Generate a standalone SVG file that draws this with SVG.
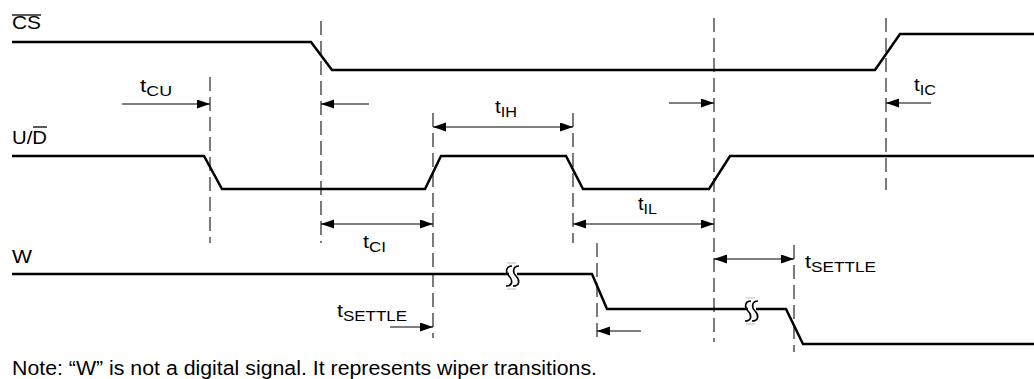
<svg xmlns="http://www.w3.org/2000/svg" width="1034" height="379" viewBox="0 0 1034 379">
<defs>
<marker id="ah" markerUnits="userSpaceOnUse" markerWidth="14" markerHeight="10" refX="13" refY="4.5" orient="auto-start-reverse"><path d="M0,0 L13,4.5 L0,9 z" fill="#000"/></marker>
<style>
.sig{fill:none;stroke:#000;stroke-width:2.5;stroke-linejoin:miter}
.guide{stroke:#111;stroke-width:1.1;stroke-dasharray:14 6;fill:none}
.arr{stroke:#000;stroke-width:1.2;fill:none}
.ov{stroke:#000;stroke-width:1.3}
text{font-family:"Liberation Sans",Arial,sans-serif;fill:#000}
.lbl{font-size:19px}
.sub{font-size:15px}
.brk{fill:none;stroke:#000;stroke-width:1.6}
.brkbar{stroke:#d0d0d0;stroke-width:1.5}
</style>
</defs>
<rect width="1034" height="379" fill="#fff"/>

<g id="guides">
<line class="guide" x1="210" y1="77" x2="210" y2="243"/>
<line class="guide" x1="321" y1="21" x2="321" y2="243"/>
<line class="guide" x1="433" y1="113" x2="433" y2="338"/>
<line class="guide" x1="573" y1="113" x2="573" y2="243"/>
<line class="guide" x1="597" y1="243" x2="597" y2="342"/>
<line class="guide" x1="714" y1="18" x2="714" y2="342"/>
<line class="guide" x1="794" y1="245" x2="794" y2="352"/>
<line class="guide" x1="886" y1="18" x2="886" y2="190"/>
</g>

<g id="signal-CS">
<polyline class="sig" points="12,42 311,42 332,70 875,70 900,34 1034,34"/>
<text class="lbl" x="12" y="29" textLength="29" lengthAdjust="spacingAndGlyphs">CS</text>
<line class="ov" x1="12" y1="15" x2="41" y2="15"/>
</g>

<g id="signal-UD">
<polyline class="sig" points="12,156 204,156 222,189 425,189 441,156 566,156 583,189 709,189 730,156 1034,156"/>
<text class="lbl" x="12" y="144" textLength="35" lengthAdjust="spacingAndGlyphs">U/D</text>
<line class="ov" x1="33" y1="127" x2="47" y2="127"/>
</g>

<g id="signal-W">
<polyline class="sig" points="12,274 592,274 607,309 786,309 803,344 1034,344"/>
<text class="lbl" x="12" y="263" textLength="20" lengthAdjust="spacingAndGlyphs">W</text>
<g id="break1" transform="translate(513,276)">
<rect x="-4" y="-5" width="8" height="8" fill="#fff"/>
<path class="brk" d="M-1,-10 C-7,-10 -8,-4 -4,0 C0,4 0,10 -7,10"/>
<path class="brk" d="M6,-10 C0,-10 -1,-4 3,0 C7,4 7,10 0,10"/>
<line class="brkbar" x1="-6" y1="-13" x2="3" y2="-13"/>
<line class="brkbar" x1="-6" y1="13" x2="3" y2="13"/>
</g>
<g id="break2" transform="translate(752,311)">
<rect x="-4" y="-5" width="8" height="8" fill="#fff"/>
<path class="brk" d="M-1,-10 C-7,-10 -8,-4 -4,0 C0,4 0,10 -7,10"/>
<path class="brk" d="M6,-10 C0,-10 -1,-4 3,0 C7,4 7,10 0,10"/>
<line class="brkbar" x1="-6" y1="-13" x2="3" y2="-13"/>
<line class="brkbar" x1="-6" y1="13" x2="3" y2="13"/>
</g>
</g>

<g id="connectors">
<line class="arr" x1="122" y1="104" x2="210" y2="104" marker-end="url(#ah)"/>
<line class="arr" x1="369" y1="104" x2="321" y2="104" marker-end="url(#ah)"/>
<line class="arr" x1="669" y1="103" x2="714" y2="103" marker-end="url(#ah)"/>
<line class="arr" x1="931" y1="103" x2="886" y2="103" marker-end="url(#ah)"/>
<line class="arr" x1="433" y1="127" x2="573" y2="127" marker-start="url(#ah)" marker-end="url(#ah)"/>
<line class="arr" x1="321" y1="224" x2="433" y2="224" marker-start="url(#ah)" marker-end="url(#ah)"/>
<line class="arr" x1="573" y1="224" x2="714" y2="224" marker-start="url(#ah)" marker-end="url(#ah)"/>
<line class="arr" x1="714" y1="259" x2="794" y2="259" marker-start="url(#ah)" marker-end="url(#ah)"/>
<line class="arr" x1="390" y1="327" x2="433" y2="327" marker-end="url(#ah)"/>
<line class="arr" x1="641" y1="331" x2="597" y2="331" marker-end="url(#ah)"/>
</g>

<g id="labels">
<text class="lbl" x="140" y="92" textLength="32" lengthAdjust="spacingAndGlyphs">t<tspan class="sub" dy="4">CU</tspan></text>
<text class="lbl" x="495" y="113" textLength="22" lengthAdjust="spacingAndGlyphs">t<tspan class="sub" dy="4">IH</tspan></text>
<text class="lbl" x="914" y="91" textLength="22" lengthAdjust="spacingAndGlyphs">t<tspan class="sub" dy="4">IC</tspan></text>
<text class="lbl" x="363" y="248" textLength="23" lengthAdjust="spacingAndGlyphs">t<tspan class="sub" dy="4">CI</tspan></text>
<text class="lbl" x="638" y="210" textLength="19" lengthAdjust="spacingAndGlyphs">t<tspan class="sub" dy="4">IL</tspan></text>
<text class="lbl" x="805" y="268" textLength="71" lengthAdjust="spacingAndGlyphs">t<tspan class="sub" dy="4">SETTLE</tspan></text>
<text class="lbl" x="337" y="317" textLength="70" lengthAdjust="spacingAndGlyphs">t<tspan class="sub" dy="4">SETTLE</tspan></text>
</g>

<g id="note">
<text x="12" y="375" font-size="20" textLength="585" lengthAdjust="spacingAndGlyphs">Note: “W” is not a digital signal. It represents wiper transitions.</text>
</g>
</svg>
